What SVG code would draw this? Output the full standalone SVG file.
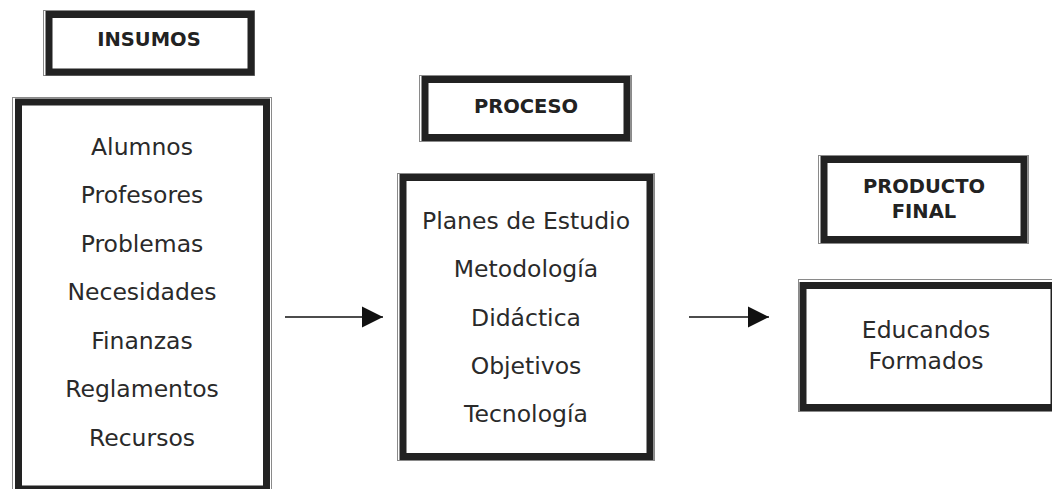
<svg xmlns="http://www.w3.org/2000/svg" width="1052" height="489" viewBox="0 0 1052 489">
<defs>
<style>
.thin{fill:none;stroke:#8a8a8a;stroke-width:1}
.thick{fill:#fff;stroke:#222;stroke-width:7}
.title{font-family:"DejaVu Sans",Verdana,sans-serif;font-weight:bold;font-size:19.5px;fill:#222;text-anchor:middle}
.body{font-family:"DejaVu Sans",Tahoma,sans-serif;font-size:23.5px;fill:#2a2a2a;text-anchor:middle}
.conn{stroke:#111;stroke-width:1.6;fill:none}
</style>
<marker id="ah" markerWidth="22" markerHeight="22" viewBox="0 0 22 22" refX="21" refY="11" orient="auto" markerUnits="userSpaceOnUse">
<polygon points="0,0.5 21,11 0,21.5" fill="#111"/>
</marker>
</defs>
<rect width="1052" height="489" fill="#fff"/>
<g id="insumos-title">
<rect class="thin" x="43.5" y="10.5" width="211" height="65"/>
<rect class="thick" x="49" y="14.5" width="202" height="57.5"/>
<text class="title" x="149" y="45.5">INSUMOS</text>
</g>
<g id="insumos-list">
<rect class="thin" x="12.5" y="97.5" width="259" height="400"/>
<rect class="thick" x="18.5" y="102" width="248" height="387"/>
<text class="body" x="142" y="154.5">Alumnos</text>
<text class="body" x="142" y="203">Profesores</text>
<text class="body" x="142" y="251.5">Problemas</text>
<text class="body" x="142" y="300">Necesidades</text>
<text class="body" x="142" y="348.5">Finanzas</text>
<text class="body" x="142" y="397">Reglamentos</text>
<text class="body" x="142" y="445.5">Recursos</text>
</g>
<g id="proceso-title">
<rect class="thin" x="419.5" y="75.5" width="212" height="66"/>
<rect class="thick" x="425" y="79.5" width="202" height="58"/>
<text class="title" x="526" y="112.5">PROCESO</text>
</g>
<g id="proceso-list">
<rect class="thin" x="397.5" y="173.5" width="257" height="287"/>
<rect class="thick" x="403" y="177.5" width="247" height="279"/>
<text class="body" x="526" y="228.5">Planes de Estudio</text>
<text class="body" x="526" y="276.5">Metodología</text>
<text class="body" x="526" y="325.5">Didáctica</text>
<text class="body" x="526" y="373.5">Objetivos</text>
<text class="body" x="526" y="421.5">Tecnología</text>
</g>
<g id="producto-title">
<rect class="thin" x="818.5" y="155.5" width="210" height="88"/>
<rect class="thick" x="824" y="159.5" width="200" height="80"/>
<text class="title" x="924" y="192.5">PRODUCTO</text>
<text class="title" x="924" y="217.5">FINAL</text>
</g>
<g id="producto-final">
<rect class="thin" x="798.5" y="279.5" width="270" height="132"/>
<rect class="thick" x="803" y="285.5" width="251" height="122"/>
<text class="body" x="926" y="337.5">Educandos</text>
<text class="body" x="926" y="368.5">Formados</text>
</g>
<g id="connectors">
<line class="conn" x1="285" y1="317" x2="383" y2="317" marker-end="url(#ah)"/>
<line class="conn" x1="689" y1="317" x2="769" y2="317" marker-end="url(#ah)"/>
</g>
</svg>
